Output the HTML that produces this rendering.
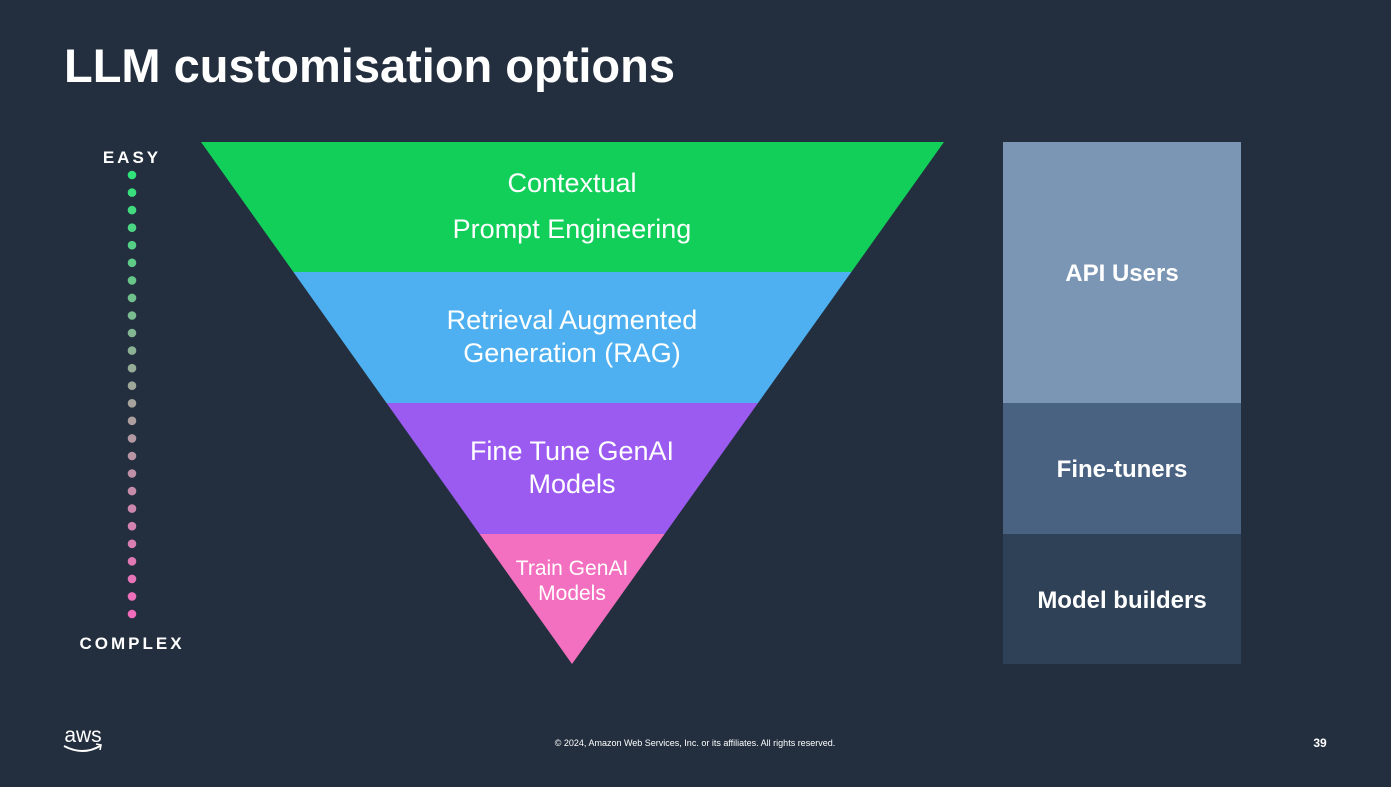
<!DOCTYPE html>
<html><head><meta charset="utf-8"><style>
html,body{margin:0;padding:0;background:#232f3e;}
body{width:1391px;height:782px;overflow:hidden;font-family:"Liberation Sans",sans-serif;}
</style></head><body>
<svg width="1391" height="782" viewBox="0 0 1391 782" xmlns="http://www.w3.org/2000/svg" font-family="Liberation Sans, sans-serif">
<rect width="1391" height="782" fill="#232f3e"/>
<text x="64" y="82" fill="#fff" font-size="47" font-weight="bold">LLM customisation options</text>
<defs>
<linearGradient id="dg" gradientUnits="userSpaceOnUse" x1="0" y1="175" x2="0" y2="614">
<stop offset="0" stop-color="#30e47a"/><stop offset="0.5" stop-color="#a3a59b"/><stop offset="1" stop-color="#f26bbc"/>
</linearGradient>
<clipPath id="tri"><polygon points="201,142 944,142 572,664"/></clipPath>
</defs>
<text x="132" y="163" fill="#fff" font-size="17" font-weight="bold" text-anchor="middle" letter-spacing="3">EASY</text>
<text x="132" y="649" fill="#fff" font-size="17" font-weight="bold" text-anchor="middle" letter-spacing="3">COMPLEX</text>
<g fill="url(#dg)">
<circle cx="132" cy="175" r="4.3"/><circle cx="132" cy="192.6" r="4.3"/><circle cx="132" cy="210.1" r="4.3"/><circle cx="132" cy="227.7" r="4.3"/><circle cx="132" cy="245.2" r="4.3"/><circle cx="132" cy="262.8" r="4.3"/><circle cx="132" cy="280.4" r="4.3"/><circle cx="132" cy="297.9" r="4.3"/><circle cx="132" cy="315.5" r="4.3"/><circle cx="132" cy="333" r="4.3"/><circle cx="132" cy="350.6" r="4.3"/><circle cx="132" cy="368.2" r="4.3"/><circle cx="132" cy="385.7" r="4.3"/><circle cx="132" cy="403.3" r="4.3"/><circle cx="132" cy="420.8" r="4.3"/><circle cx="132" cy="438.4" r="4.3"/><circle cx="132" cy="456" r="4.3"/><circle cx="132" cy="473.5" r="4.3"/><circle cx="132" cy="491.1" r="4.3"/><circle cx="132" cy="508.6" r="4.3"/><circle cx="132" cy="526.2" r="4.3"/><circle cx="132" cy="543.8" r="4.3"/><circle cx="132" cy="561.3" r="4.3"/><circle cx="132" cy="578.9" r="4.3"/><circle cx="132" cy="596.4" r="4.3"/><circle cx="132" cy="614" r="4.3"/>
</g>
<g clip-path="url(#tri)">
<rect x="190" y="142" width="760" height="130" fill="#12cf5a"/>
<rect x="190" y="272" width="760" height="131" fill="#4eb0f0"/>
<rect x="190" y="403" width="760" height="131" fill="#9b5bf1"/>
<rect x="190" y="534" width="760" height="130" fill="#f36fbf"/>
</g>
<g fill="#fff" text-anchor="middle" font-size="27">
<text x="572" y="192">Contextual</text>
<text x="572" y="238">Prompt Engineering</text>
<text x="572" y="329">Retrieval Augmented</text>
<text x="572" y="362">Generation (RAG)</text>
<text x="572" y="460">Fine Tune GenAI</text>
<text x="572" y="493">Models</text>
<text x="572" y="575" font-size="21">Train GenAI</text>
<text x="572" y="600" font-size="21">Models</text>
</g>
<rect x="1003" y="142" width="238" height="261" fill="#7b96b4"/>
<rect x="1003" y="403" width="238" height="131" fill="#4a6281"/>
<rect x="1003" y="534" width="238" height="130" fill="#2f4157"/>
<g fill="#fff" text-anchor="middle" font-size="24" font-weight="bold">
<text x="1122" y="281">API Users</text>
<text x="1122" y="477">Fine-tuners</text>
<text x="1122" y="608">Model builders</text>
</g>
<text x="83" y="742" fill="#fff" font-size="21" text-anchor="middle">aws</text>
<path d="M64 746 Q83 756 100 746" stroke="#fff" stroke-width="2" fill="none"/>
<path d="M96 744 L101 745 L100 750" stroke="#fff" stroke-width="1.6" fill="none"/>
<text x="695" y="746" fill="#fff" font-size="9" text-anchor="middle">© 2024, Amazon Web Services, Inc. or its affiliates. All rights reserved.</text>
<text x="1320" y="747" fill="#fff" font-size="12" font-weight="bold" text-anchor="middle">39</text>
</svg>
</body></html>
